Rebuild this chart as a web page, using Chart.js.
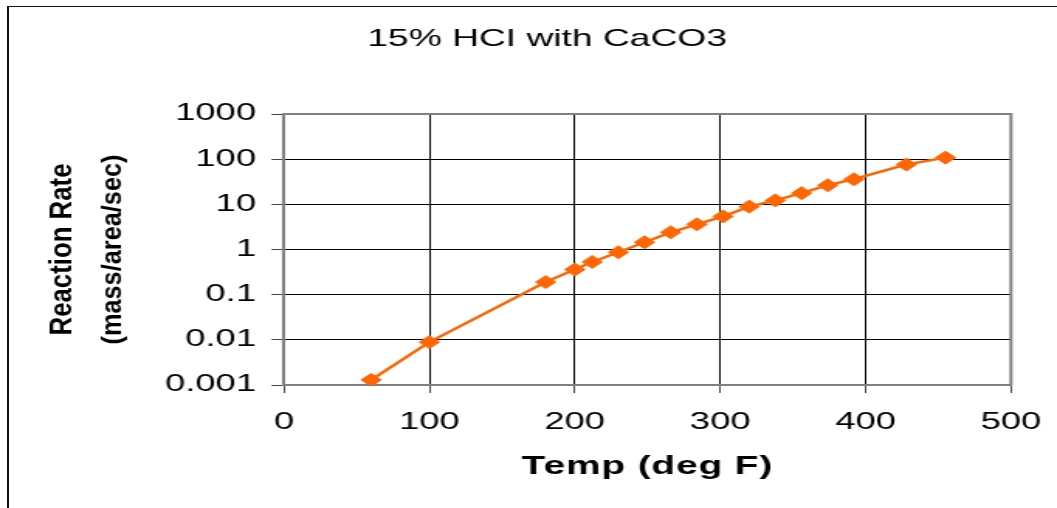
<!DOCTYPE html>
<html>
<head>
<meta charset="utf-8">
<script src="https://cdn.jsdelivr.net/npm/chart.js@4"></script>
<style>
  html, body { margin: 0; padding: 0; background: #fff; overflow: hidden; }
  #frame { position: absolute; left: 7px; top: 6px; width: 1100px; height: 600px;
           border-left: 2px solid #111; border-top: 1px solid #111; }
  #chart { position: absolute; left: 0; top: 0; }
</style>
</head>
<body>
<div id="frame"></div>
<!-- the original picture is stretched sideways, so the canvas is drawn narrow and widened by css -->
<canvas id="chart" width="682" height="508" style="width:1057px;height:508px"></canvas>
<script>
// Data
const temps = [60, 100, 180, 200, 212, 230, 248, 266, 284, 302, 320, 338, 356, 374, 392, 428, 455];
const rates = [0.0013, 0.0089, 0.19, 0.36, 0.53, 0.87, 1.45, 2.4, 3.6, 5.4, 8.9, 12.2, 17.7, 26.5, 36, 76, 108];
const xTicks = [0, 100, 200, 300, 400, 500];
const yTicks = [0.001, 0.01, 0.1, 1, 10, 100, 1000];
const yTickLabels = ['0.001', '0.01', '0.1', '1', '10', '100', '1000'];

const titleText = '15% HCI with CaCO3';
const xTitle = 'Temp (deg F)';
const yTitle = ['Reaction Rate', '(mass/area/sec)'];

const FONT = '"Liberation Sans", Arial, sans-serif';
Chart.defaults.font.family = FONT;
Chart.defaults.color = '#000';

// gray box round the plot area (top and right sides, the axes draw the rest)
const plotFrame = {
    id: 'plotFrame',
    beforeDatasetsDraw(chart) {
        const { ctx, chartArea: a } = chart;
        ctx.save();
        ctx.strokeStyle = '#808080';
        ctx.lineWidth = 2;
        ctx.beginPath();
        ctx.moveTo(a.left, a.top);
        ctx.lineTo(a.right, a.top);
        ctx.lineTo(a.right, a.bottom);
        ctx.stroke();
        ctx.restore();
    }
};

// chart title and axis titles
const texts = {
    id: 'texts',
    afterDraw(chart) {
        const { ctx, chartArea: a } = chart;
        ctx.save();
        ctx.fillStyle = '#000';
        ctx.textAlign = 'center';
        ctx.textBaseline = 'middle';

        ctx.font = '24px ' + FONT;
        ctx.fillText(titleText, 353, 39);

        ctx.font = 'bold 25px ' + FONT;
        ctx.letterSpacing = '0.6px';
        ctx.fillText(xTitle, (a.left + a.right) / 2, 467);
        ctx.letterSpacing = '0px';

        const midY = (a.top + a.bottom) / 2;
        const lines = [
            { text: yTitle[0], x: 40.6, size: 19.5, len: 172 },
            { text: yTitle[1], x: 73.5, size: 17.5, len: 190 }
        ];
        lines.forEach(l => {
            ctx.save();
            ctx.font = 'bold ' + l.size + 'px ' + FONT;
            const w = ctx.measureText(l.text).width;
            ctx.translate(l.x, midY);
            ctx.rotate(-Math.PI / 2);
            ctx.scale(l.len / w, 1);
            ctx.fillText(l.text, 0, 0);
            ctx.restore();
        });
        ctx.restore();
    }
};

new Chart(document.getElementById('chart'), {
    type: 'line',
    data: {
        datasets: [{
            data: temps.map((t, i) => ({ x: t, y: rates[i] })),
            borderColor: '#ff6600',
            backgroundColor: '#ff6600',
            borderWidth: 2.5,
            pointStyle: 'rectRot',
            pointRadius: 6.5,
            pointBorderWidth: 1,
            pointBorderColor: '#ff6600',
            pointBackgroundColor: '#ff6600',
            tension: 0
        }]
    },
    options: {
        responsive: false,
        devicePixelRatio: 1,
        animation: false,
        layout: { padding: { top: 114, right: 29.7, left: 0, bottom: 0 } },
        plugins: { legend: { display: false }, tooltip: { enabled: false }, title: { display: false } },
        scales: {
            x: {
                type: 'linear',
                min: 0,
                max: 500,
                afterBuildTicks: s => { s.ticks = xTicks.map(v => ({ value: v })); },
                afterFit: s => { s.height = 123; s.paddingLeft = 0; s.paddingRight = 0; },
                ticks: { font: { size: 23.5 }, padding: 15, maxRotation: 0, autoSkip: false },
                grid: { color: '#000', lineWidth: 1, tickLength: 8, tickColor: '#444' },
                border: { color: '#808080', width: 2 }
            },
            y: {
                type: 'logarithmic',
                min: 0.001,
                max: 1000,
                afterBuildTicks: s => { s.ticks = yTicks.map(v => ({ value: v })); },
                afterFit: s => { s.width = 183.2; },
                ticks: {
                    font: { size: 23.5 },
                    padding: 10,
                    autoSkip: false,
                    callback: v => yTickLabels[yTicks.indexOf(v)]
                },
                grid: { color: '#000', lineWidth: 1, tickLength: 8, tickColor: '#444' },
                border: { color: '#808080', width: 2 }
            }
        }
    },
    plugins: [plotFrame, texts]
});
</script>
</body>
</html>
